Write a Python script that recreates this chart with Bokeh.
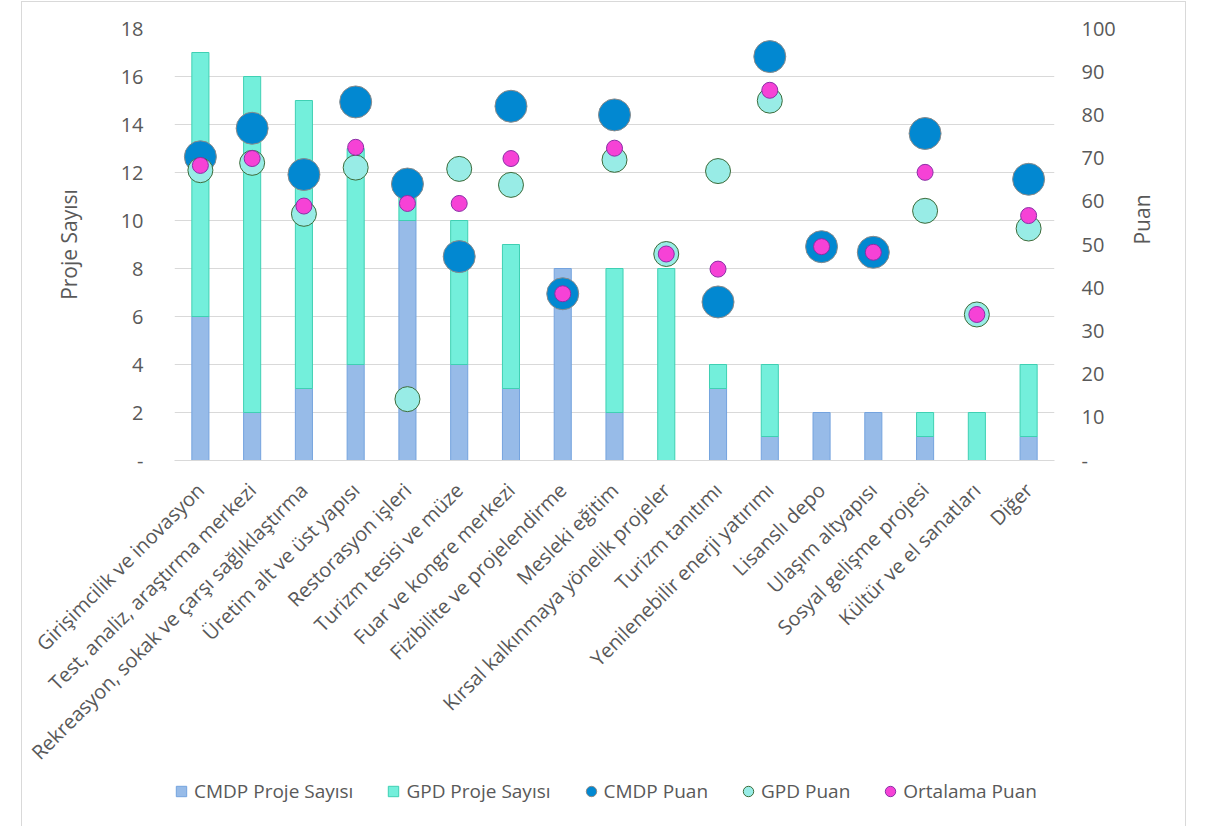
import math
from bokeh.plotting import figure
from bokeh.layouts import column
from bokeh.models import (ColumnDataSource, FactorRange, Range1d, LinearAxis,
                          FixedTicker, Legend, LegendItem)
from bokeh.embed import file_html
from bokeh.resources import INLINE

nan = float("nan")

categories = [
    "Girişimcilik ve inovasyon",
    "Test, analiz, araştırma merkezi",
    "Rekreasyon, sokak ve çarşı sağlıklaştırma",
    "Üretim alt ve üst yapısı",
    "Restorasyon işleri",
    "Turizm tesisi ve müze",
    "Fuar ve kongre merkezi",
    "Fizibilite ve projelendirme",
    "Mesleki eğitim",
    "Kırsal kalkınmaya yönelik projeler",
    "Turizm tanıtımı",
    "Yenilenebilir enerji yatırımı",
    "Lisanslı depo",
    "Ulaşım altyapısı",
    "Sosyal gelişme projesi",
    "Kültür ve el sanatları",
    "Diğer",
]

cmdp_count = [6, 2, 3, 4, 10, 4, 3, 8, 2, 0, 3, 1, 2, 2, 1, 0, 1]
gpd_count = [11, 14, 12, 9, 1, 6, 6, 0, 6, 8, 1, 3, 0, 0, 1, 2, 3]

cmdp_puan = [70.3, 76.9, 66.2, 83.0, 64.0, 47.2, 82.0, 38.6, 80.0, nan,
             36.7, 93.5, 49.5, 48.2, 75.7, nan, 65.1]
gpd_puan = [67.2, 68.9, 57.1, 67.8, 14.2, 67.5, 63.8, nan, 69.6, 47.8,
            67.0, 83.3, nan, nan, 57.8, 33.8, 53.7]
ort_puan = [68.3, 69.9, 58.9, 72.5, 59.5, 59.5, 69.9, 38.6, 72.3, 47.8,
            44.3, 85.7, 49.5, 48.2, 66.7, 33.8, 56.7]

left_ticks = [0, 2, 4, 6, 8, 10, 12, 14, 16, 18]
right_ticks = [0, 10, 20, 30, 40, 50, 60, 70, 80, 90, 100]

series_names = ["CMDP Proje Sayısı", "GPD Proje Sayısı",
                "CMDP Puan", "GPD Puan", "Ortalama Puan"]

FONT = "Open Sans"
TXT = "#595959"
GRID = "#d9d9d9"

bar_fill = ["#97bbe8", "#73efdb"]
bar_line = ["#74a3de", "#3fd0b3"]
dot_fill = ["#0288d1", "#98ece6", "#f642d6"]
dot_line = ["#8a8a8a", "#3e6b3a", "#8a2fa6"]
dot_size = [32, 25, 16]

src = ColumnDataSource(dict(
    cat=categories, cmdp=cmdp_count, gpd=gpd_count,
    cmdp_puan=cmdp_puan, gpd_puan=gpd_puan, ort_puan=ort_puan,
    # only outline segments that actually have height
    cmdp_edge=[1 if v > 0 else 0 for v in cmdp_count],
    gpd_edge=[1 if v > 0 else 0 for v in gpd_count],
))

p = figure(
    x_range=FactorRange(*categories),
    y_range=Range1d(0, 18),
    frame_width=878, frame_height=430,
    output_backend="svg", toolbar_location=None,
    min_border_left=152, min_border_right=133,
    min_border_top=26, min_border_bottom=400,
)
p.styles = {"margin-left": "21px", "margin-top": "1px",
            "border": "1px solid #d9d9d9"}
p.outline_line_color = None
p.background_fill_color = "white"
p.border_fill_color = "white"

p.extra_y_ranges = {"puan": Range1d(0, 100)}

# stacked project counts
p.vbar_stack(["cmdp", "gpd"], x="cat", width=0.33, source=src,
             fill_color=bar_fill, line_color=bar_line, line_width=1,
             line_alpha=["cmdp_edge", "gpd_edge"])

# scores on the secondary axis
for col, fc, lc, sz in zip(["cmdp_puan", "gpd_puan", "ort_puan"],
                           dot_fill, dot_line, dot_size):
    p.scatter("cat", col, source=src, y_range_name="puan", size=sz,
              fill_color=fc, line_color=lc, line_width=1)

# left axis: project counts
ax = p.yaxis[0]
ax.ticker = FixedTicker(ticks=left_ticks)
ax.major_label_overrides = {0: "-"}
ax.axis_label = "Proje Sayısı"
ax.axis_line_color = None
ax.major_tick_line_color = None
ax.minor_tick_line_color = None
ax.major_label_standoff = 25
ax.major_label_text_font = FONT
ax.major_label_text_font_size = "20px"
ax.major_label_text_color = TXT
ax.axis_label_text_font = FONT
ax.axis_label_text_font_size = "21px"
ax.axis_label_text_color = TXT
ax.axis_label_text_font_style = "normal"
ax.axis_label_standoff = 35

# right axis: scores
right = LinearAxis(y_range_name="puan", ticker=FixedTicker(ticks=right_ticks))
right.major_label_overrides = {0: "-"}
right.axis_line_color = None
right.major_tick_line_color = None
right.minor_tick_line_color = None
right.major_label_standoff = 21
right.major_label_text_font = FONT
right.major_label_text_font_size = "20px"
right.major_label_text_color = TXT
right.axis_label = "Puan"
right.axis_label_text_font = FONT
right.axis_label_text_font_size = "21px"
right.axis_label_text_color = TXT
right.axis_label_text_font_style = "normal"
right.axis_label_standoff = 23
if "axis_label_orientation" in right.properties():
    right.axis_label_orientation = math.pi / 2
p.add_layout(right, "right")

p.xaxis.major_label_orientation = math.pi / 4
p.xaxis.major_label_text_font = FONT
p.xaxis.major_label_text_font_size = "20px"
p.xaxis.major_label_text_color = TXT
p.xaxis.major_label_standoff = 20
p.xaxis.axis_line_color = GRID
p.xaxis.major_tick_line_color = None
p.xaxis.minor_tick_line_color = None

p.xgrid.grid_line_color = None
p.ygrid.grid_line_color = GRID
p.ygrid.grid_line_width = 1

# legend strip laid over the lower margin of the chart; its swatches use the
# chart data against a range that keeps the points themselves out of view
leg = figure(width=1164, height=34, output_backend="svg",
             x_range=FactorRange(*categories), y_range=Range1d(-2, -1),
             toolbar_location=None, x_axis_location=None,
             y_axis_location=None, min_border=0)
leg.styles = {"margin-left": "21px", "margin-top": "-85px"}
leg.outline_line_color = None
leg.background_fill_color = None
leg.border_fill_color = None
leg.grid.grid_line_color = None

swatches = []
for col, fc, lc in zip(["cmdp", "gpd"], bar_fill, bar_line):
    swatches.append(leg.scatter("cat", col, source=src, marker="square",
                                fill_color=fc, line_color=lc))
for col, fc, lc in zip(["cmdp_puan", "gpd_puan", "ort_puan"],
                       dot_fill, dot_line):
    swatches.append(leg.scatter("cat", col, source=src, marker="circle",
                                fill_color=fc, line_color=lc))

legend = Legend(
    items=[LegendItem(label=n, renderers=[r])
           for n, r in zip(series_names, swatches)],
    orientation="horizontal",
    location=(-5, 2),
    glyph_width=26, glyph_height=30,
    label_standoff=0, spacing=27, padding=0, margin=0,
    border_line_color=None, background_fill_alpha=0,
    label_text_font=FONT, label_text_font_size="19px",
    label_text_color=TXT,
)
leg.add_layout(legend, "center")

open("out.html", "w").write(file_html(column(p, leg), INLINE))
